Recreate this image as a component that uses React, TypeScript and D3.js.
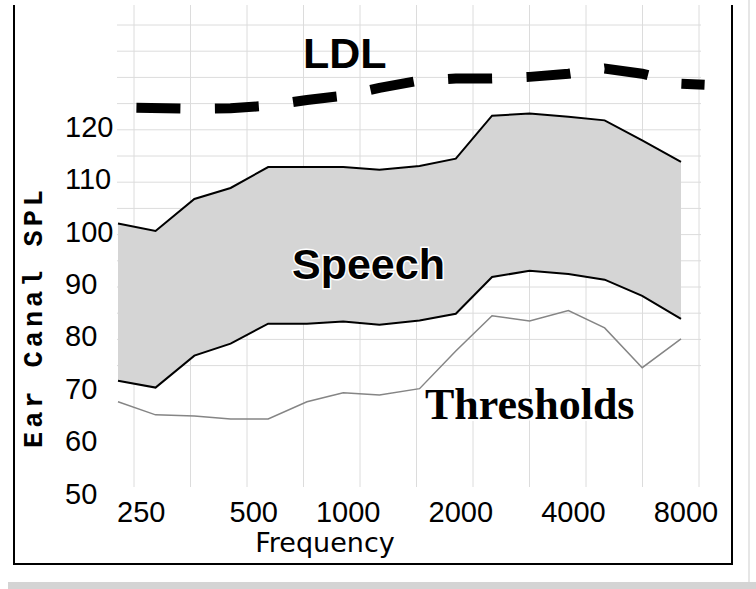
import React from 'react';
import * as d3 from 'd3';

// 1/3-octave bands
const freqs = [250, 315, 400, 500, 630, 800, 1000, 1250, 1600, 2000, 2500, 3150, 4000, 5000, 6300, 8000];
const speechUpper = [102.1, 100.7, 106.8, 108.9, 112.9, 112.9, 112.9, 112.4, 113.1, 114.5, 122.7, 123.1, 122.5, 121.8, 118.0, 113.9];
const speechLower = [72.1, 70.8, 76.9, 79.2, 83.0, 83.0, 83.4, 82.8, 83.6, 84.9, 91.9, 93.1, 92.5, 91.4, 88.3, 83.9];
const thresholds = [68.1, 65.6, 65.4, 64.8, 64.8, 68.1, 69.8, 69.4, 70.6, 77.8, 84.5, 83.5, 85.5, 82.2, 74.6, 80.1];

// LDL trace runs a bit past the band range
const ldlFreqs = [280, 400, 500, 630, 800, 1000, 1250, 1600, 2000, 2500, 3150, 4000, 5000, 6300, 8000, 9250];
const ldlValues = [124.2, 124.0, 124.1, 124.6, 125.7, 126.5, 128.0, 129.4, 129.8, 129.8, 130.1, 130.7, 131.7, 130.7, 128.8, 128.6];

const xTicks = [250, 500, 1000, 2000, 4000, 8000];
const yTicks = [50, 60, 70, 80, 90, 100, 110, 120];

const W = 756;
const H = 589;

export default function App() {
  const x = d3.scaleLog().base(2).domain([250, 8000]).range([118, 681]);
  const y = d3.scaleLinear().domain([50, 140]).range([496.6, 25]);
  // background grid is offset from the data positions in the original
  const gridX = d3.scaleLinear().domain([0, 10]).range([x(250) + 16, x(8000) + 18]);

  const band = freqs.map((f, i) => ({ f, lo: speechLower[i], hi: speechUpper[i], th: thresholds[i] }));
  const area = d3.area<any>().x(d => x(d.f)).y0(d => y(d.lo)).y1(d => y(d.hi))(band) || '';
  const upper = d3.line<any>().x(d => x(d.f)).y(d => y(d.hi))(band) || '';
  const lower = d3.line<any>().x(d => x(d.f)).y(d => y(d.lo))(band) || '';
  const thr = d3.line<any>().x(d => x(d.f)).y(d => y(d.th))(band) || '';
  const ldl = d3.line<number>().x((d, i) => x(ldlFreqs[i])).y(d => y(d))(ldlValues) || '';

  const frame = { l: 14, r: 732, t: 5, b: 564 };
  const sans = 'Arial, "Liberation Sans", sans-serif';

  return (
    <svg width={W} height={H} style={{ position: 'absolute', left: 0, top: 0, background: '#fff' }}>
      {/* shadow strips */}
      <rect x={8} y={582} width={W - 8} height={7} fill="#d4d4d4" />
      <rect x={748} y={0} width={2} height={582} fill="#e6e6e6" />

      {/* grid */}
      <g stroke="#dcdcdc" strokeWidth={1}>
        {d3.range(75, 141, 5).map(v => (
          <line key={'h' + v} x1={117} x2={701} y1={y(v)} y2={y(v)} />
        ))}
        {d3.range(11).map(i => (
          <line key={'v' + i} x1={gridX(i)} x2={gridX(i)} y1={frame.t} y2={487} />
        ))}
      </g>

      {/* speech range */}
      <path d={area} fill="#d5d5d5" />
      <path d={upper} fill="none" stroke="#000" strokeWidth={2} />
      <path d={lower} fill="none" stroke="#000" strokeWidth={2} />

      {/* thresholds */}
      <path d={thr} fill="none" stroke="#858585" strokeWidth={1.5} />

      {/* LDL */}
      <path d={ldl} fill="none" stroke="#000" strokeWidth={10} strokeDasharray="44 34.5" />

      {/* frame */}
      <path d={`M${frame.l},${frame.t}V${frame.b}H${frame.r}V${frame.t}`} fill="none" stroke="#000" strokeWidth={2} />

      {/* y tick labels */}
      {yTicks.map(v => (
        <text key={v} x={65} y={y(v) + 7} fontFamily={sans} fontSize={29} fill="#000">{v}</text>
      ))}

      {/* x tick labels */}
      {xTicks.map(f => {
        const s = String(f);
        const short = s.length < 4;
        return (
          <text key={f} x={short ? x(f) - 1 : x(f) + 5} y={522} textAnchor={short ? 'start' : 'middle'}
            fontFamily={sans} fontSize={29} fill="#000">{s}</text>
        );
      })}

      <text x={325} y={552} textAnchor="middle" fontFamily='"DejaVu Sans", Verdana, sans-serif' fontSize={27} fill="#000">
        Frequency
      </text>

      <text transform="translate(42,319) rotate(-90)" textAnchor="middle"
        fontFamily='"Courier New", "Liberation Mono", monospace' fontSize={27} fontWeight="bold"
        textLength={258} lengthAdjust="spacing" fill="#000">
        Ear Canal SPL
      </text>

      {/* series labels */}
      <text x={303} y={68} fontFamily={sans} fontWeight="bold" fontSize={43} fill="#000">LDL</text>
      <text x={292} y={279} fontFamily={sans} fontWeight="bold" fontSize={43} fill="#000"
        stroke="#fff" strokeWidth={3} paintOrder="stroke">Speech</text>
      <text x={425} y={419} fontFamily='"Times New Roman", "Liberation Serif", serif' fontWeight="bold" fontSize={44}
        fill="#000" stroke="#fff" strokeWidth={4} paintOrder="stroke">Thresholds</text>
    </svg>
  );
}
